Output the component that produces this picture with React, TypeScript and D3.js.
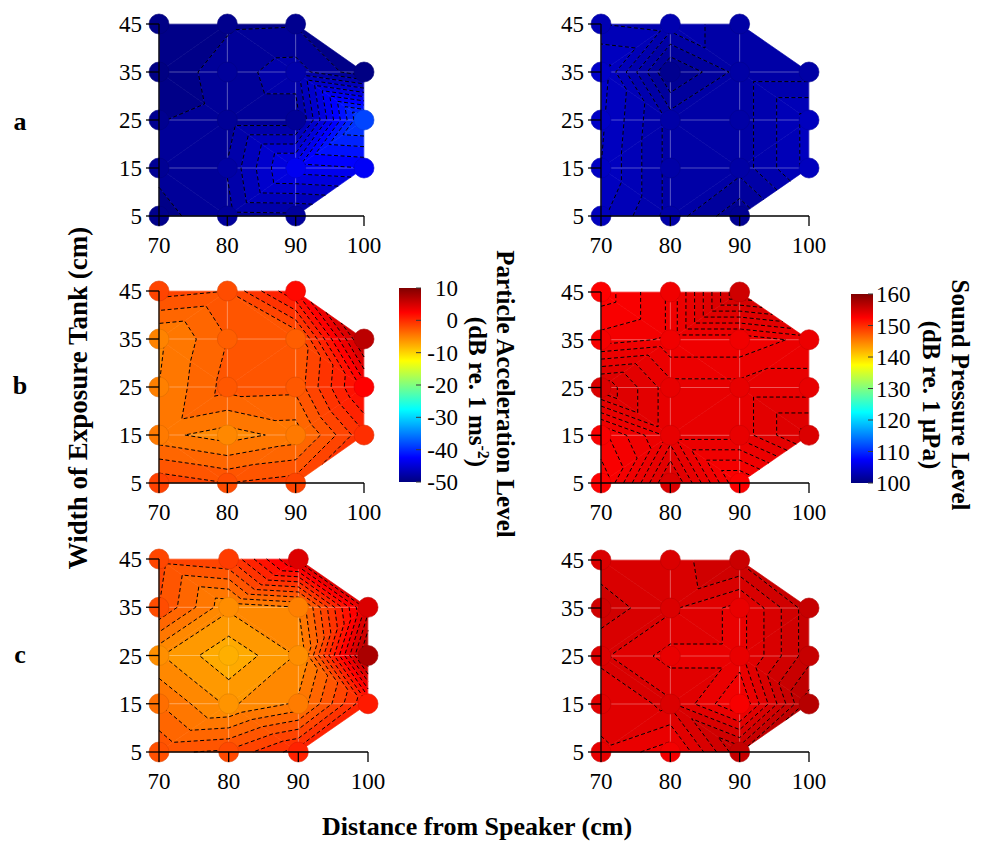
import React from "react";
import * as d3 from "d3";

// ---------------- data ----------------
const DIST = [70, 80, 90, 100]; // distance from speaker (cm) – table columns
const WIDTH_ROWS = [45, 35, 25, 15, 5]; // width of tank (cm) – table rows
const X_TICKS = [70, 80, 90, 100];
const Y_TICKS = [5, 15, 25, 35, 45];
const ACC_TICKS = [10, 0, -10, -20, -30, -40, -50];
const SPL_TICKS = [160, 150, 140, 130, 120, 110, 100];
const ACC_DOMAIN: [number, number] = [-50, 10];
const SPL_DOMAIN: [number, number] = [100, 160];
const PANEL_LETTERS = ["a", "b", "c"];

// particle acceleration level (dB re 1 m s^-2), null = no measurement
const accA = [
  [-49.6, -49.2, -49.1, null],
  [-49.8, -48.4, -47.5, -49.8],
  [-49.05, -48.6, -48.6, -38.5],
  [-48.8, -47.9, -43.4, -43.0],
  [-49.3, -48.4, -48.3, null],
];
const accB = [
  [-1.5, -2.0, 2.0, null],
  [-5.2, -3.0, -3.0, 6.5],
  [-5.0, -2.6, -2.7, 2.5],
  [-4.7, -5.5, -4.6, -0.2],
  [-1.3, -2.0, -1.5, null],
];
const accC = [
  [-1.6, -1.0, 4.5, null],
  [-2.0, -5.8, -5.0, 4.6],
  [-5.9, -7.8, -5.9, 7.5],
  [-4.0, -6.2, -4.8, 1.0],
  [-2.2, -1.8, 0.5, null],
];
// sound pressure level (dB re 1 µPa)
const splA = [
  [103.0, 102.8, 102.2, null],
  [104.2, 100.9, 102.2, 102.2],
  [104.1, 102.3, 102.2, 103.7],
  [104.0, 102.3, 102.2, 103.7],
  [103.6, 102.3, 101.1, null],
];
const splB = [
  [152.6, 153.3, 155.3, null],
  [153.1, 153.3, 153.3, 153.6],
  [154.7, 153.85, 153.85, 153.85],
  [152.9, 153.85, 153.85, 154.6],
  [152.6, 154.6, 152.7, null],
];
const splC = [
  [154.7, 154.7, 155.6, null],
  [155.3, 154.6, 153.8, 155.8],
  [154.6, 153.8, 153.8, 155.8],
  [154.2, 154.6, 152.9, 156.8],
  [153.9, 153.2, 155.9, null],
];
// contour interval per panel (dB)
const STEP_ACC = [1, 1, 1];
const STEP_SPL = [0.5, 0.25, 0.5];

// ---------------- helpers ----------------
const FONT = "'Liberation Serif', 'Times New Roman', serif";
const clamp01 = (v: number) => Math.max(0, Math.min(1, v));
function jet(t: number) {
  t = clamp01(t);
  const r = clamp01(1.5 - Math.abs(4 * t - 3));
  const g = clamp01(1.5 - Math.abs(4 * t - 2));
  const b = clamp01(1.5 - Math.abs(4 * t - 1));
  return d3.rgb(r * 255, g * 255, b * 255).formatHex();
}

type Pt = { x: number; y: number; v: number };

function interp(p: Pt, q: Pt, L: number): Pt {
  const t = (L - p.v) / (q.v - p.v);
  return { x: p.x + t * (q.x - p.x), y: p.y + t * (q.y - p.y), v: L };
}
function clipPoly(poly: Pt[], L: number, above: boolean): Pt[] {
  const out: Pt[] = [];
  const n = poly.length;
  for (let k = 0; k < n; k++) {
    const P = poly[k];
    const Q = poly[(k + 1) % n];
    const pin = above ? P.v >= L : P.v <= L;
    const qin = above ? Q.v >= L : Q.v <= L;
    if (pin && qin) out.push(Q);
    else if (pin && !qin) out.push(interp(P, Q, L));
    else if (!pin && qin) {
      out.push(interp(P, Q, L));
      out.push(Q);
    }
  }
  return out;
}

type Seg = { k1: string; p1: [number, number]; k2: string; p2: [number, number] };
function chainSegs(segs: Seg[]): [number, number][][] {
  const byKey = new Map<string, number[]>();
  segs.forEach((s, i) => {
    for (const k of [s.k1, s.k2]) {
      if (!byKey.has(k)) byKey.set(k, []);
      byKey.get(k)!.push(i);
    }
  });
  const used = new Array(segs.length).fill(false);
  const paths: [number, number][][] = [];
  const walk = (start: number, startKey: string) => {
    const pts: [number, number][] = [];
    let cur = start;
    let enterKey = startKey;
    const s0 = segs[cur];
    pts.push(enterKey === s0.k1 ? s0.p1 : s0.p2);
    while (cur !== -1) {
      used[cur] = true;
      const s = segs[cur];
      const exitKey = enterKey === s.k1 ? s.k2 : s.k1;
      pts.push(enterKey === s.k1 ? s.p2 : s.p1);
      const nxt = (byKey.get(exitKey) || []).find((n) => !used[n]);
      cur = nxt === undefined ? -1 : nxt;
      enterKey = exitKey;
    }
    return pts;
  };
  segs.forEach((s, i) => {
    for (const k of [s.k1, s.k2]) {
      if (!used[i] && byKey.get(k)!.length === 1) paths.push(walk(i, k));
    }
  });
  segs.forEach((s, i) => {
    if (!used[i]) paths.push(walk(i, s.k1));
  });
  return paths;
}

type PanelProps = {
  table: (number | null)[][];
  domain: [number, number];
  step: number;
  parity: number;
  xr: [number, number];
  yr: [number, number];
};

function Panel({ table, domain, step, parity, xr, yr }: PanelProps) {
  const xs = d3.scaleLinear().domain([70, 100]).range(xr);
  const ys = d3.scaleLinear().domain([5, 45]).range(yr);
  const cs = d3.scaleLinear().domain(domain).range([0, 1]);
  const color = (v: number) => jet(cs(v));

  const nodes: Pt[] = [];
  const idx: (number | null)[][] = [];
  for (let i = 0; i < DIST.length; i++) {
    idx[i] = [];
    for (let j = 0; j < WIDTH_ROWS.length; j++) {
      const row = WIDTH_ROWS.length - 1 - j;
      const val = table[row][i];
      if (val == null) idx[i][j] = null;
      else {
        idx[i][j] = nodes.length;
        nodes.push({ x: xs(DIST[i]), y: ys(WIDTH_ROWS[row]), v: val });
      }
    }
  }
  const tris: number[][] = [];
  for (let i = 0; i < DIST.length - 1; i++) {
    for (let j = 0; j < WIDTH_ROWS.length - 1; j++) {
      const a = idx[i][j], b = idx[i + 1][j], c = idx[i][j + 1], d = idx[i + 1][j + 1];
      const present = [a, b, d, c].filter((n) => n != null) as number[];
      if (present.length === 4) {
        if ((i + j) % 2 === parity) tris.push([a!, b!, d!], [a!, d!, c!]);
        else tris.push([a!, b!, c!], [b!, d!, c!]);
      } else if (present.length === 3) tris.push(present);
    }
  }
  const vals = nodes.map((n) => n.v);
  const vmin = d3.min(vals)!;
  const vmax = d3.max(vals)!;
  const lo = Math.floor(vmin / step) * step;
  const hi = Math.ceil(vmax / step) * step;
  const levels = d3.range(Math.round((hi - lo) / step) + 1).map((k) => +(lo + k * step).toFixed(6));

  const bands: { d: string; fill: string }[] = [];
  for (const t of tris) {
    const poly = t.map((n) => nodes[n]);
    for (let k = 0; k < levels.length - 1; k++) {
      let p = clipPoly(poly, levels[k], true);
      if (p.length < 3) continue;
      p = clipPoly(p, levels[k + 1], false);
      if (p.length < 3) continue;
      const fill = color((levels[k] + levels[k + 1]) / 2);
      bands.push({ d: "M" + p.map((q) => `${q.x},${q.y}`).join("L") + "Z", fill });
    }
  }

  const lineGen = d3.line();
  const contourPaths: string[] = [];
  for (const L of levels) {
    if (L <= vmin || L >= vmax) continue;
    const segs: Seg[] = [];
    for (const t of tris) {
      const pts: { k: string; p: [number, number] }[] = [];
      for (let e = 0; e < 3; e++) {
        const ia = t[e], ib = t[(e + 1) % 3];
        const A = nodes[ia], B = nodes[ib];
        const sa = A.v - L >= 0, sb = B.v - L >= 0;
        if (sa !== sb) {
          const q = interp(A, B, L);
          pts.push({ k: `${Math.min(ia, ib)}-${Math.max(ia, ib)}`, p: [q.x, q.y] });
        }
      }
      if (pts.length === 2) segs.push({ k1: pts[0].k, p1: pts[0].p, k2: pts[1].k, p2: pts[1].p });
    }
    for (const c of chainSegs(segs)) contourPaths.push(lineGen(c)!);
  }

  return (
    <g>
      {bands.map((b, i) => (
        <path key={"b" + i} d={b.d} fill={b.fill} stroke={b.fill} strokeWidth={0.6} strokeLinejoin="round" />
      ))}
      {X_TICKS.map((v) => (
        <line key={"gx" + v} x1={xs(v)} x2={xs(v)} y1={ys(5)} y2={ys(45)} stroke="rgba(255,255,255,0.4)" strokeWidth={0.8} />
      ))}
      {Y_TICKS.map((v) => (
        <line key={"gy" + v} x1={xs(70)} x2={xs(100)} y1={ys(v)} y2={ys(v)} stroke="rgba(255,255,255,0.4)" strokeWidth={0.8} />
      ))}
      {contourPaths.map((d, i) => (
        <path key={"c" + i} d={d} fill="none" stroke="#000" strokeWidth={1} strokeDasharray="4,2.5" />
      ))}
      {nodes.map((n, i) => (
        <circle key={"n" + i} cx={n.x} cy={n.y} r={10} fill={color(n.v)} stroke={d3.color(color(n.v))!.darker(0.4).formatHex()} strokeWidth={0.6} />
      ))}
      <line x1={xs(70)} x2={xs(70)} y1={ys(45)} y2={ys(5)} stroke="#000" strokeWidth={1.3} />
      <line x1={xs(70)} x2={xs(100)} y1={ys(5)} y2={ys(5)} stroke="#000" strokeWidth={1.3} />
      {Y_TICKS.map((v) => (
        <g key={"yt" + v}>
          <line x1={xs(70) - 13} x2={xs(70)} y1={ys(v)} y2={ys(v)} stroke="#000" strokeWidth={1.3} />
          <text x={xs(70) - 17} y={ys(v)} dy="0.35em" textAnchor="end" fontSize={23} fontFamily={FONT}>
            {v}
          </text>
        </g>
      ))}
      {X_TICKS.map((v) => (
        <g key={"xt" + v}>
          <line x1={xs(v)} x2={xs(v)} y1={ys(5)} y2={ys(5) + 10} stroke="#000" strokeWidth={1.3} />
          <text x={xs(v)} y={ys(5) + 37} textAnchor="middle" fontSize={23} fontFamily={FONT}>
            {v}
          </text>
        </g>
      ))}
    </g>
  );
}

function ColorBar({
  id, domain, ticks, x, w, y0, y1, labelX, anchor,
}: { id: string; domain: [number, number]; ticks: number[]; x: number; w: number; y0: number; y1: number; labelX: number; anchor: string }) {
  const s = d3.scaleLinear().domain(domain).range([y0, y1]);
  const stops = d3.range(0, 1.0001, 0.025);
  return (
    <g>
      <defs>
        <linearGradient id={id} x1="0" y1="1" x2="0" y2="0">
          {stops.map((t) => (
            <stop key={t} offset={t} stopColor={jet(t)} />
          ))}
        </linearGradient>
      </defs>
      <rect x={x} y={y1} width={w} height={y0 - y1} fill={`url(#${id})`} />
      {ticks.map((t) => (
        <g key={t}>
          <line x1={x + w - 5} x2={x + w} y1={s(t)} y2={s(t)} stroke="#3a3a3a" strokeWidth={1} />
          <text x={labelX} y={s(t)} dy="0.35em" textAnchor={anchor} fontSize={23} fontFamily={FONT}>
            {t}
          </text>
        </g>
      ))}
    </g>
  );
}

const LAYOUT = [
  { x: [159, 364], y: [216, 24] },
  { x: [601, 809], y: [216, 24] },
  { x: [159, 364], y: [483, 291] },
  { x: [601, 809], y: [483, 292] },
  { x: [159, 368], y: [752, 559] },
  { x: [601, 809], y: [752, 560] },
];
const PARITY = [1, 1, 1, 0, 0, 0];

export default function App() {
  const accTables = [accA, accB, accC];
  const splTables = [splA, splB, splC];
  return (
    <svg width={983} height={841} style={{ position: "absolute", left: 0, top: 0, background: "#fff" }} fontFamily={FONT}>
      {[0, 1, 2].map((r) => (
        <g key={r}>
          <Panel
            table={accTables[r]}
            domain={ACC_DOMAIN}
            step={STEP_ACC[r]}
            parity={PARITY[r * 2]}
            xr={LAYOUT[r * 2].x as [number, number]}
            yr={LAYOUT[r * 2].y as [number, number]}
          />
          <Panel
            table={splTables[r]}
            domain={SPL_DOMAIN}
            step={STEP_SPL[r]}
            parity={PARITY[r * 2 + 1]}
            xr={LAYOUT[r * 2 + 1].x as [number, number]}
            yr={LAYOUT[r * 2 + 1].y as [number, number]}
          />
        </g>
      ))}
      {PANEL_LETTERS.map((l, r) => (
        <text key={l} x={20} y={[130, 394, 663][r]} textAnchor="middle" fontSize={26} fontWeight="bold" fontFamily={FONT}>
          {l}
        </text>
      ))}
      <ColorBar id="gAcc" domain={ACC_DOMAIN} ticks={ACC_TICKS} x={399} w={22} y0={482} y1={288} labelX={458} anchor="end" />
      <ColorBar id="gSpl" domain={SPL_DOMAIN} ticks={SPL_TICKS} x={851} w={22} y0={483} y1={294} labelX={876} anchor="start" />
      <text transform="translate(506,394) rotate(90)" textAnchor="middle" dy="0.35em" fontSize={25} fontWeight="bold" fontFamily={FONT}>
        Particle Acceleration Level
      </text>
      <text transform="translate(478,392) rotate(90)" textAnchor="middle" dy="0.35em" fontSize={25} fontWeight="bold" fontFamily={FONT}>
        (dB re. 1 ms<tspan dy="-9" fontSize={16}>-2</tspan>
        <tspan dy="9">)</tspan>
      </text>
      <text transform="translate(961,395) rotate(90)" textAnchor="middle" dy="0.35em" fontSize={25} fontWeight="bold" fontFamily={FONT}>
        Sound Pressure Level
      </text>
      <text transform="translate(932,395) rotate(90)" textAnchor="middle" dy="0.35em" fontSize={25} fontWeight="bold" fontFamily={FONT}>
        (dB re. 1 μPa)
      </text>
      <text transform="translate(78,398) rotate(-90)" textAnchor="middle" dy="0.35em" fontSize={27} fontWeight="bold" fontFamily={FONT}>
        Width of Exposure Tank (cm)
      </text>
      <text x={477} y={835} textAnchor="middle" fontSize={26} fontWeight="bold" fontFamily={FONT}>
        Distance from Speaker (cm)
      </text>
    </svg>
  );
}
